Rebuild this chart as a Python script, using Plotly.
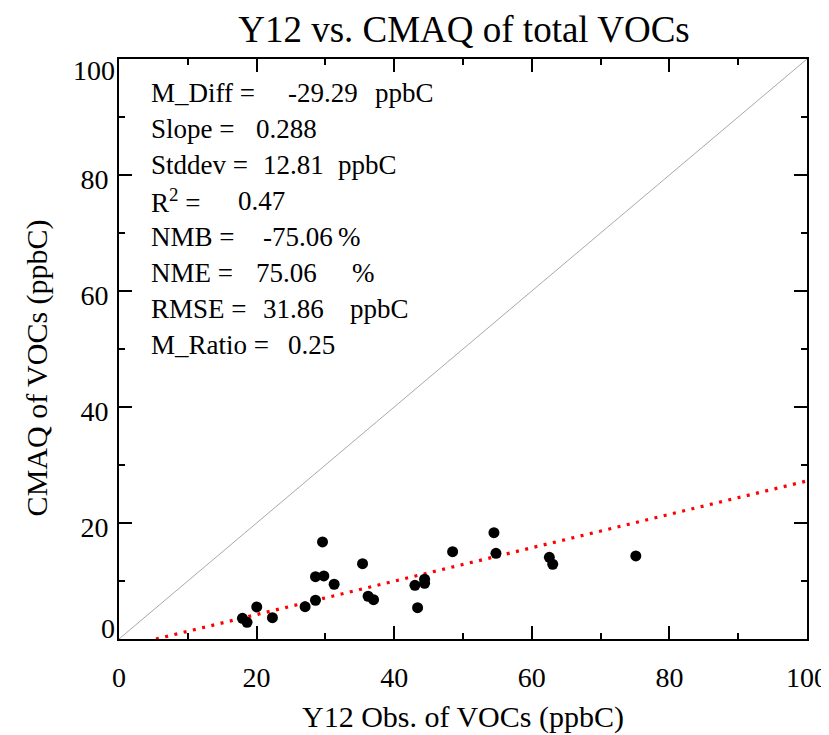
import plotly.graph_objects as go

# ---------------- data ----------------
obs_x = [17.94, 18.61, 20.02, 22.30, 27.05, 28.56, 28.56, 29.77, 29.58, 31.27,
         35.40, 36.21, 37.00, 43.01, 43.40, 44.42, 44.42, 48.49, 54.50, 54.79,
         62.55, 63.04, 75.12]
cmaq_y = [3.57, 2.88, 5.52, 3.67, 5.57, 6.68, 10.75, 10.87, 16.73, 9.44,
          12.99, 7.37, 6.78, 9.26, 5.40, 10.30, 9.61, 15.06, 18.34, 14.78,
          14.09, 12.89, 14.32]

fit_slope = 0.288
fit_intercept = -1.55

axis_range = [0, 100]
tick_vals = [0, 20, 40, 60, 80, 100]
tick_text = ["0", "20", "40", "60", "80", "100"]

stat_labels = ["M_Diff =", "Slope =", "Stddev =", "R<sup>2</sup> =", "NMB =",
               "NME =", "RMSE =", "M_Ratio ="]
stat_values = ["-29.29", "0.288", "12.81", "0.47", "-75.06", "75.06", "31.86", "0.25"]
stat_units = ["ppbC", "", "ppbC", "", "%", "%", "ppbC", ""]

# ---------------- layout geometry ----------------
# The page body has an 8px margin, so the figure is drawn 8px right/down.
OFF = 8
W, H = 829, 735
PLOT_L, PLOT_R, PLOT_T, PLOT_B = 119.4, 806.7, 59.3, 639.0   # target page pixels
ML = PLOT_L - OFF
MT = PLOT_T - OFF
MR = W - (PLOT_R - OFF)
MB = H - (PLOT_B - OFF)
PW, PH = PLOT_R - PLOT_L, PLOT_B - PLOT_T

def px_x(px):
    return (px - PLOT_L) / PW

def px_y(py):
    return (PLOT_B - py) / PH

value_px = [288, 256, 263, 238, 263, 256, 263, 288]
unit_px = [375, 0, 338, 0, 338, 352, 350, 0]
line_py = [93.5 + 36.0 * i for i in range(len(stat_labels))]

FONT = "Liberation Serif, Times New Roman, serif"
STAT_SIZE = 27

fig = go.Figure()

# 1:1 line
fig.add_trace(go.Scatter(x=axis_range, y=axis_range, mode="lines",
                         line=dict(color="#a8a8a8", width=1), hoverinfo="skip"))

# regression line
fit_x = axis_range
fit_y = [fit_slope * v + fit_intercept for v in fit_x]
fig.add_trace(go.Scatter(x=fit_x, y=fit_y, mode="lines",
                         line=dict(color="#ff0000", width=3.2, dash="3px,6.5px"),
                         hoverinfo="skip"))

# data points
fig.add_trace(go.Scatter(x=obs_x, y=cmaq_y, mode="markers",
                         marker=dict(color="black", size=11)))

# invisible helpers so the end-label overlay axes are drawn
for ax in ["y2", "y3"]:
    fig.add_trace(go.Scatter(x=axis_range, y=axis_range, mode="lines", yaxis=ax,
                             line=dict(width=0, color="rgba(0,0,0,0)"),
                             hoverinfo="skip", showlegend=False))

annotations = []
for i, lab in enumerate(stat_labels):
    y = px_y(line_py[i])
    pieces = [(lab, 150), (stat_values[i], value_px[i] - 1)]
    if stat_units[i]:
        pieces.append((stat_units[i], unit_px[i] - 1))
    for txt, xp in pieces:
        annotations.append(dict(text=txt, x=px_x(xp), y=y, xref="paper", yref="paper",
                                xanchor="left", yanchor="middle", showarrow=False,
                                borderpad=0,
                                font=dict(family=FONT, size=STAT_SIZE, color="black")))

# axis titles
annotations.append(dict(text="Y12 Obs. of VOCs (ppbC)", x=px_x(463), y=px_y(717),
                        xref="paper", yref="paper", xanchor="center", yanchor="middle",
                        showarrow=False, font=dict(family=FONT, size=30, color="black")))
annotations.append(dict(text="CMAQ of VOCs (ppbC)", x=px_x(37), y=px_y(368),
                        xref="paper", yref="paper", xanchor="center", yanchor="middle",
                        textangle=-90, showarrow=False,
                        font=dict(family=FONT, size=30, color="black")))

tick_font = dict(family=FONT, size=28, color="black")
axis_common = dict(range=axis_range, tickvals=tick_vals, showgrid=False, zeroline=False,
                   showline=True, linewidth=2, linecolor="black", mirror="ticks",
                   ticks="inside", ticklen=13, tickwidth=2, tickcolor="black",
                   automargin=False,
                   minor=dict(dtick=10, ticks="inside", ticklen=6, tickwidth=2,
                              tickcolor="black", showgrid=False),
                   tickfont=tick_font)

# main y axis: inner labels only, end labels drawn by overlay axes
inner_text = [t if 0 < v < 100 else "" for v, t in zip(tick_vals, tick_text)]

def end_axis(idx, shift):
    return dict(overlaying="y", anchor="x", side="left", range=axis_range,
                tickvals=[tick_vals[idx]], ticktext=[tick_text[idx]],
                showline=False, ticks="", showgrid=False, zeroline=False,
                automargin=False, tickfont=tick_font,
                ticklabelstandoff=3, ticklabelshift=shift)

fig.update_layout(
    width=W, height=H,
    margin=dict(l=ML, r=MR, t=MT, b=MB),
    paper_bgcolor="white", plot_bgcolor="white",
    showlegend=False,
    title=dict(text="Y12 vs. CMAQ of total VOCs", x=px_x(464), xref="paper",
               xanchor="center", y=1 - (29 - OFF) / H, yanchor="middle",
               font=dict(family=FONT, size=37, color="black")),
    xaxis=dict(**axis_common, ticklabelstandoff=12),
    yaxis=dict(**axis_common, ticktext=inner_text, ticklabelstandoff=3,
               ticklabelshift=4),
    yaxis2=end_axis(0, -11),
    yaxis3=end_axis(5, 11),
    annotations=annotations,
)

fig.write_html("out.html")
